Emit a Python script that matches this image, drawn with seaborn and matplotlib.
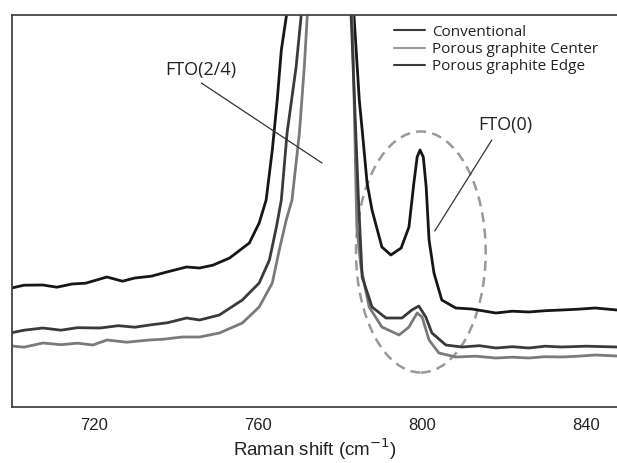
import numpy as np
import pandas as pd
import matplotlib
matplotlib.use("Agg")
import matplotlib.pyplot as plt
from matplotlib.patches import Ellipse
from matplotlib.lines import Line2D
import seaborn as sns

# ---- data (intensity in arbitrary units) ----
conv_x = [700, 703, 707.6, 711, 714.7, 718, 723.2, 727, 730, 734, 737.8, 742.6, 745.8,
          749, 753.1, 757.9, 760.3,
          762.0, 763.5, 764.7, 765.7, 766.9, 776, 783.4, 784.7, 785.4, 786.6, 787.8,
          790.2, 792.4, 794.9, 796.8, 798.0, 798.8, 799.5, 800.3, 801.0, 801.7, 802.9,
          804.8, 808.2, 812.1, 818.0, 822, 826.0, 830, 834.0, 838, 842.2, 847.5]
conv_y = [118.7, 121.5, 121.7, 119.5, 122.7, 123.5, 129.7, 125.5, 128.7, 130.5, 134.7,
          139.7, 138.7, 141.5, 148.7, 163.7, 183.7,
          206.7, 256.7, 306.7, 356.7, 389.7, 900, 391.7, 306.7, 276.7, 223.7, 196.7,
          159.7, 151.7, 158.7, 179.7, 223.7, 249.7, 256.7, 249.7, 219.7, 166.7, 133.7,
          106.7, 98.7, 97.7, 93.7, 95.5, 94.7, 96.0, 96.7, 97.5, 98.7, 96.7]

center_x = [700, 703, 707.6, 712, 716, 719.8, 723.2, 728, 733.6, 737, 741.6, 745.8, 750.6,
            756.2, 760.3, 763.5,
            765.2, 766.9, 768.3, 770.1, 771.3, 772.0, 777, 783.0, 784.1, 785.1, 787.1,
            790.2, 794.4, 796.8, 798.8, 800.0, 801.7, 804.1, 808.2, 813, 818, 822, 826,
            830, 834, 838, 842.2, 847.5]
center_y = [60.7, 59.5, 63.7, 62.0, 63.5, 61.7, 66.7, 64.5, 66.7, 67.5, 69.7, 69.7, 73.7,
            83.7, 99.7, 123.7,
            156.7, 186.7, 206.7, 273.7, 339.7, 389.7, 900, 391.7, 179.7, 139.7, 99.7,
            79.7, 71.7, 79.7, 93.7, 89.7, 66.7, 53.7, 49.7, 50.5, 48.7, 49.5, 48.7,
            50.0, 49.7, 50.5, 51.7, 50.7]

edge_x = [700, 703, 707.6, 712, 716, 721.5, 726, 730, 733.6, 738, 742.6, 745.8, 750.6,
          756.2, 760.3, 762.8, 764.5,
          765.7, 767.1, 769.3, 770.5, 777, 782.7, 784.5, 785.4, 787.8, 791.2, 795.1,
          797.5, 799.2, 800.9, 802.4, 805.8, 809.7, 814, 818.0, 822, 826.0, 830, 834.0,
          840, 847.5]
edge_y = [74, 76.5, 78.7, 76.5, 79.0, 78.7, 81.0, 79.5, 81.7, 84.0, 88.7, 86.7, 91.7,
          106.7, 123.7, 146.7, 179.7,
          206.7, 273.7, 339.7, 389.7, 900, 391.7, 206.7, 129.7, 99.7, 88.7, 88.7,
          96.7, 100.7, 89.7, 73.7, 61.7, 59.7, 61.0, 58.7, 60.0, 58.7, 60.5, 59.7,
          60.5, 59.7]

series_names = ["Conventional", "Porous graphite Center", "Porous graphite Edge"]
colors = {"Conventional": "#161616",
          "Porous graphite Center": "#7a7a7a",
          "Porous graphite Edge": "#3a3a3a"}
legend_colors = ["#3a3a3a", "#9a9a9a", "#3a3a3a"]
xticks_major = [720, 760, 800, 840]
xticks_minor = [740, 780, 820]

df = pd.concat([
    pd.DataFrame({"x": conv_x, "y": conv_y, "s": "Conventional"}),
    pd.DataFrame({"x": center_x, "y": center_y, "s": "Porous graphite Center"}),
    pd.DataFrame({"x": edge_x, "y": edge_y, "s": "Porous graphite Edge"}),
], ignore_index=True)

sns.set_style("white")
plt.rcParams["font.family"] = ["Liberation Sans", "DejaVu Sans"]

fig = plt.figure(figsize=(6.17, 4.63), dpi=100)
ax = fig.add_axes([0.019, 0.1216, 0.981, 0.846])

sns.lineplot(data=df, x="x", y="y", hue="s", palette=colors, estimator=None,
             sort=False, linewidth=2.0, legend=False, ax=ax)

ax.set_xlim(700, 847.5)
ax.set_ylim(0, 391.7)
ax.set_yticks([])
ax.set_ylabel("")
ax.set_xticks(xticks_major)
ax.set_xticks(xticks_minor, minor=True)
ax.tick_params(axis="x", which="major", direction="in", length=7, width=1.2,
               color="#333333", labelsize=12, pad=8, labelcolor="#222222")
ax.tick_params(axis="x", which="minor", direction="in", length=4, width=1.2,
               color="#333333")
ax.set_xlabel("Raman shift (cm$^{-1}$)", fontsize=13.5, labelpad=3, color="#222222")

for side in ["left", "top", "bottom"]:
    ax.spines[side].set_visible(True)
    ax.spines[side].set_color("#444444")
    ax.spines[side].set_linewidth(1.3)
ax.spines["right"].set_visible(False)

# dashed ellipse around FTO(0)
ell = Ellipse((799.7, 154.7), width=31.6, height=241, fill=False,
              edgecolor="#999999", linestyle=(0, (4, 2.5)), linewidth=1.8)
ax.add_patch(ell)

annot_font = ["Open Sans", "DejaVu Sans"]
ax.text(746.0, 336.7, "FTO(2/4)", fontsize=13, ha="center", va="center",
        family=annot_font, color="#222222")
ax.plot([746.2, 775.6], [323.7, 243.7], color="#333333", linewidth=0.9)
ax.text(820.4, 281.7, "FTO(0)", fontsize=13, ha="center", va="center",
        family=annot_font, color="#222222")
ax.plot([817.0, 803.1], [266.7, 175.7], color="#333333", linewidth=0.9)

handles = [Line2D([0], [0], color=c, linewidth=1.5) for c in legend_colors]
leg = ax.legend(handles, series_names, loc="upper left",
                bbox_to_anchor=(0.614, 1.003), frameon=False,
                prop={"family": annot_font, "size": 11},
                handlelength=2.0, handletextpad=0.5, labelspacing=0.16,
                borderpad=0.2)
for t in leg.get_texts():
    t.set_color("#222222")

fig.savefig("out.png", dpi=100)
